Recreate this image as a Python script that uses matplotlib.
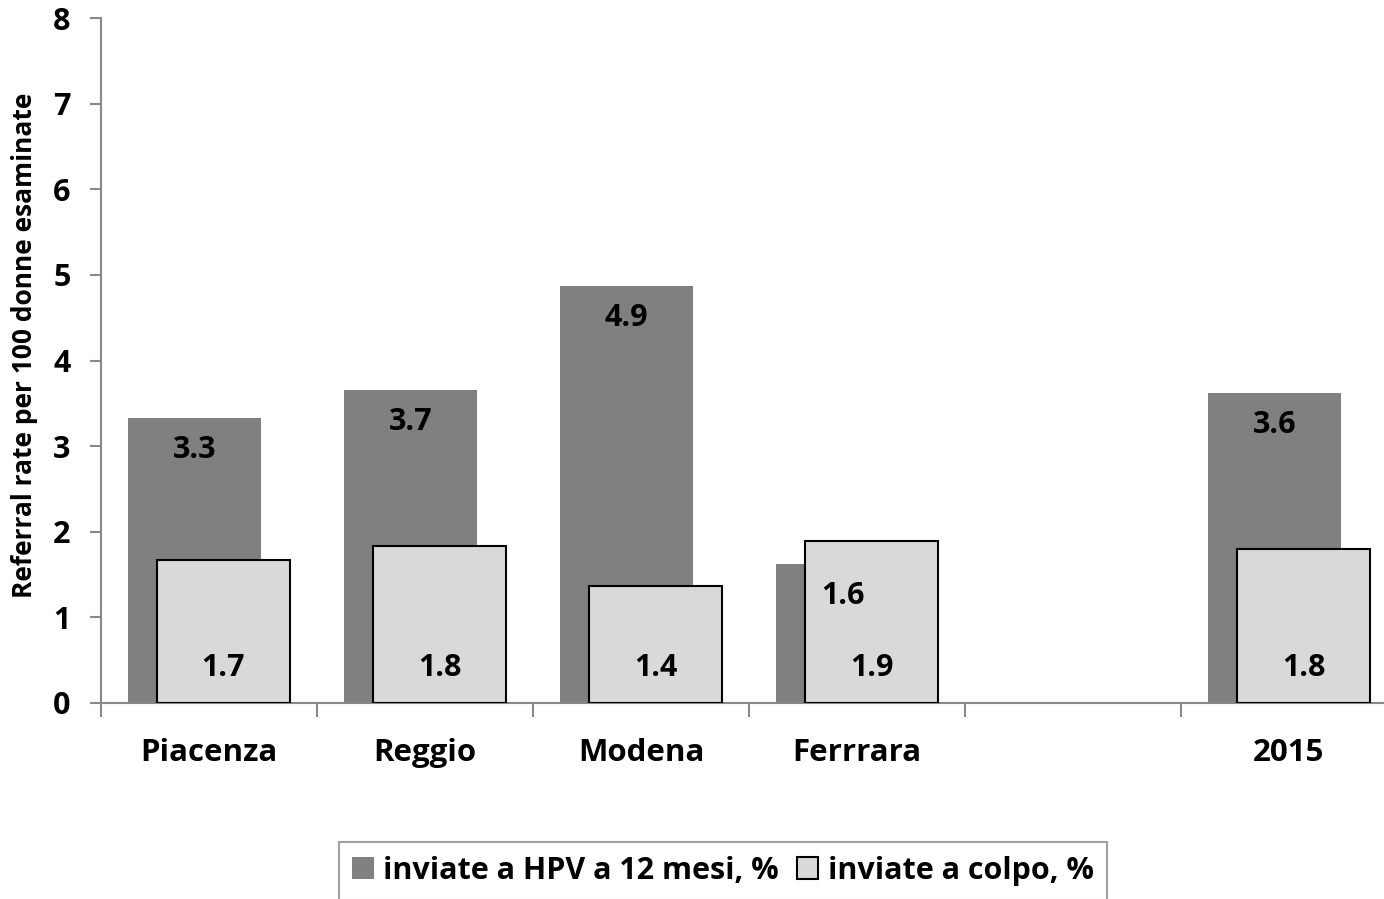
import matplotlib
matplotlib.use("Agg")
import matplotlib.pyplot as plt
import numpy as np

plt.rcParams["font.family"] = ["Open Sans", "DejaVu Sans"]
plt.rcParams["font.weight"] = "bold"

# -- data ----------------------------------------------------------------------
categories = ["Piacenza", "Reggio", "Modena", "Ferrrara", "", "2015"]
hpv_12m = [3.33, 3.66, 4.87, 1.62, np.nan, 3.62]
colpo   = [1.67, 1.83, 1.37, 1.89, np.nan, 1.80]
series_names = ["inviate a HPV a 12 mesi, %", "inviate a colpo, %"]

DARK  = "#808080"
LIGHT = "#d9d9d9"
AXIS  = "#888888"
FS = 22

# -- figure --------------------------------------------------------------------
fig = plt.figure(figsize=(13.84, 8.99), dpi=100)
ax = fig.add_axes([101 / 1384, 196 / 899, 1296 / 1384, 685 / 899])

x = np.arange(len(categories))
width = 0.616
shift = 0.067

ax.bar(x - shift, hpv_12m, width, color=DARK, zorder=2,
       label=series_names[0])
ax.bar(x + shift, colpo, width, color=LIGHT, edgecolor="black",
       linewidth=1.5, zorder=3, label=series_names[1])

# value labels: dark ones just under the bar top, light ones near the base
for xi, v in zip(x, hpv_12m):
    if np.isnan(v):
        continue
    ax.annotate(f"{v:.1f}", (xi - shift, v), xytext=(0, -23),
                textcoords="offset points", ha="center", va="center",
                fontsize=FS, fontweight="bold", zorder=5)
for xi, v in zip(x, colpo):
    if np.isnan(v):
        continue
    ax.text(xi + shift, 0.41, f"{v:.1f}", ha="center", va="center",
            fontsize=FS, fontweight="bold", zorder=5)

ax.set_xlim(-0.5, len(categories) - 0.5)
ax.set_ylim(0, 8)
ax.set_yticks(range(0, 9))

# category names between ticks placed at the group boundaries
ax.set_xticks(np.arange(len(categories) + 1) - 0.5)
ax.set_xticklabels([])
ax.set_xticks(x, minor=True)
ax.set_xticklabels(categories, minor=True, fontsize=FS + 0.5, fontweight="bold")
ax.tick_params(axis="x", which="minor", length=0, pad=25)
ax.tick_params(axis="x", which="major", length=10, color=AXIS, width=1.5)
ax.tick_params(axis="y", length=8, color=AXIS, width=1.5, labelsize=FS, pad=14)

for s in ["top", "right"]:
    ax.spines[s].set_visible(False)
for s in ["left", "bottom"]:
    ax.spines[s].set_color(AXIS)
    ax.spines[s].set_linewidth(1.5)

fig.text(25 / 1384, 1 - 345 / 899, "Referral rate per 100 donne esaminate",
         rotation=90, ha="center", va="center", fontsize=19, fontweight="bold")

leg = ax.legend(loc="upper center", bbox_to_anchor=(723 / 1384, 57 / 899),
                bbox_transform=fig.transFigure, ncol=2, frameon=True,
                fancybox=False, fontsize=FS, handlelength=0.7,
                handleheight=0.7, handletextpad=0.3, columnspacing=0.6,
                borderpad=0.45, borderaxespad=0)
leg.get_frame().set_edgecolor(AXIS)
leg.get_frame().set_linewidth(1.5)
for t in leg.get_texts():
    t.set_fontweight("bold")

fig.savefig("out.png", dpi=100)
plt.close(fig)
